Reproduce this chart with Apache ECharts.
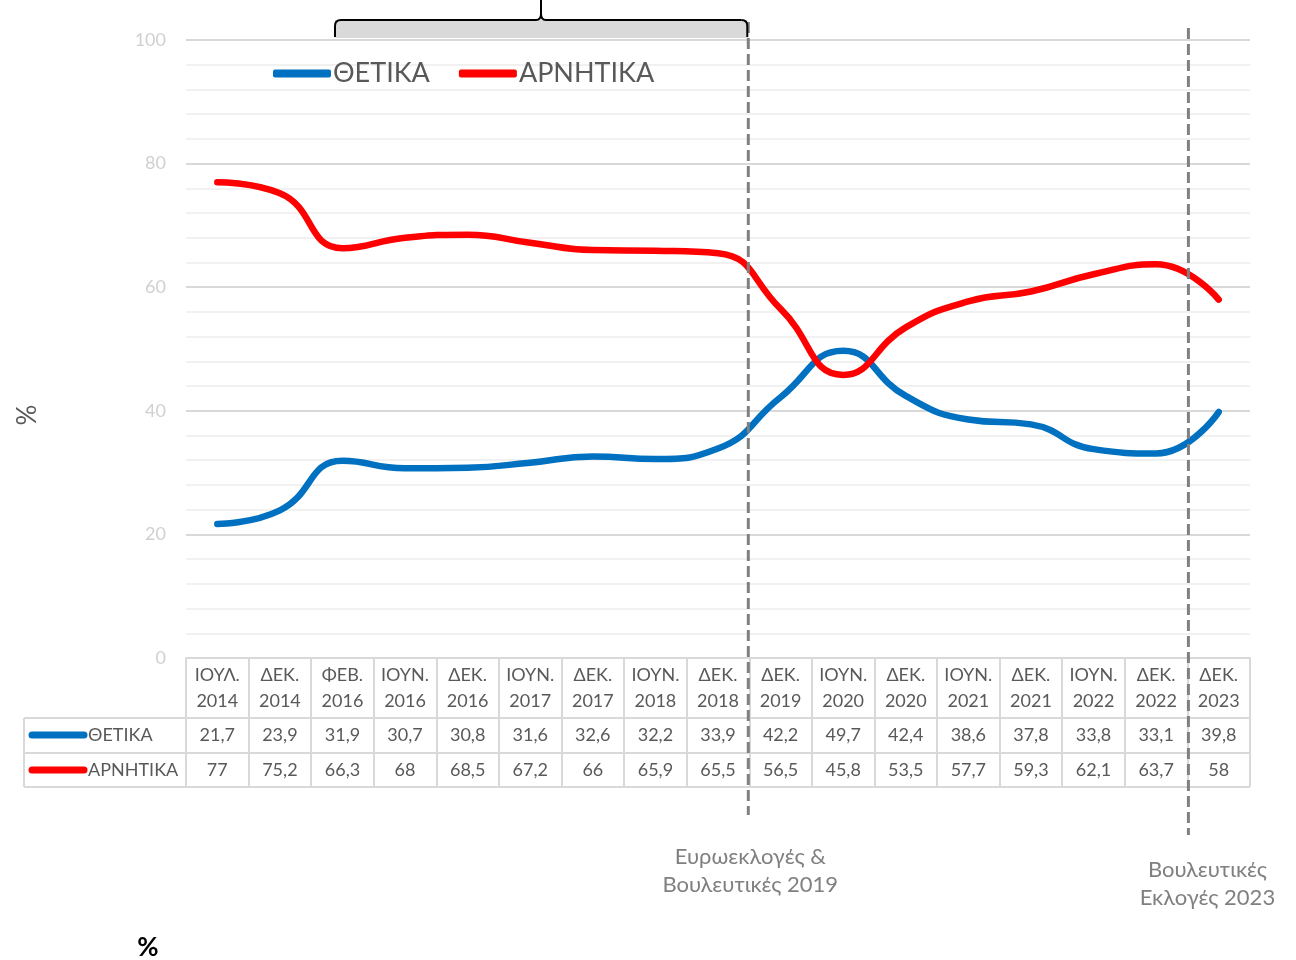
<!DOCTYPE html>
<html>
<head>
<meta charset="utf-8">
<script src="https://cdn.jsdelivr.net/npm/echarts@6/dist/echarts.min.js"></script>
<style>
  html, body { margin: 0; padding: 0; background: #fff; }
  #chart { width: 1296px; height: 960px; }
</style>
</head>
<body>
<div id="chart"></div>
<script>
// περίοδοι μέτρησης
var categories = ['ΙΟΥΛ. 2014', 'ΔΕΚ. 2014', 'ΦΕΒ. 2016', 'ΙΟΥΝ. 2016', 'ΔΕΚ. 2016', 'ΙΟΥΝ. 2017',
  'ΔΕΚ. 2017', 'ΙΟΥΝ. 2018', 'ΔΕΚ. 2018', 'ΔΕΚ. 2019', 'ΙΟΥΝ. 2020', 'ΔΕΚ. 2020', 'ΙΟΥΝ. 2021',
  'ΔΕΚ. 2021', 'ΙΟΥΝ. 2022', 'ΔΕΚ. 2022', 'ΔΕΚ. 2023'];
var thetika = [21.7, 23.9, 31.9, 30.7, 30.8, 31.6, 32.6, 32.2, 33.9, 42.2, 49.7, 42.4, 38.6, 37.8, 33.8, 33.1, 39.8];
var arnhtika = [77, 75.2, 66.3, 68, 68.5, 67.2, 66, 65.9, 65.5, 56.5, 45.8, 53.5, 57.7, 59.3, 62.1, 63.7, 58];
var yTicks = [0, 20, 40, 60, 80, 100];
var seriesNames = ['ΘΕΤΙΚΑ', 'ΑΡΝΗΤΙΚΑ'];
var colors = ['#0070c0', '#ff0000'];

var font = 'Lato';
var gridColor = '#d9d9d9';
var textColor = '#595959';

var chart = echarts.init(document.getElementById('chart'));

var option = {
  backgroundColor: '#fff',
  animation: false,
  textStyle: { fontFamily: font },
  legend: {
    left: 268,
    top: 55,
    itemWidth: 58,
    itemHeight: 8,
    itemGap: 29,
    icon: 'roundRect',
    textStyle: { fontSize: 27, color: textColor, fontFamily: font, padding: [0, 0, 0, -3] },
    data: seriesNames
  },
  grid: { left: 186, right: 46, top: 40, bottom: 302 },
  xAxis: {
    type: 'category',
    data: categories,
    boundaryGap: true,
    axisLine: { show: true, lineStyle: { color: gridColor, width: 2 } },
    axisTick: { show: true, length: 129, lineStyle: { color: gridColor, width: 2 } },
    axisLabel: {
      margin: 4,
      interval: 0,
      color: textColor,
      fontSize: 18,
      lineHeight: 26,
      fontFamily: font,
      formatter: function (v) { return v.replace(' ', '\n'); }
    }
  },
  yAxis: {
    type: 'value',
    min: 0,
    max: 100,
    interval: 20,
    axisLine: { show: false },
    axisTick: { show: false },
    axisLabel: {
      margin: 20,
      color: '#d0d0d0',
      fontSize: 18,
      fontFamily: font,
      formatter: function (v) { return yTicks.indexOf(v) >= 0 ? String(v) : ''; }
    },
    splitLine: { lineStyle: { color: gridColor, width: 2 } },
    minorTick: { show: false, splitNumber: 5 },
    minorSplitLine: { show: true, lineStyle: { color: '#ededed', width: 1.5 } }
  },
  series: [
    {
      name: seriesNames[0],
      type: 'line',
      data: thetika,
      smooth: 0.5,
      symbol: 'none',
      lineStyle: { color: colors[0], width: 6.5, cap: 'round' },
      itemStyle: { color: colors[0] },
      z: 3
    },
    {
      name: seriesNames[1],
      type: 'line',
      data: arnhtika,
      smooth: 0.5,
      symbol: 'none',
      lineStyle: { color: colors[1], width: 6.5, cap: 'round' },
      itemStyle: { color: colors[1] },
      z: 3
    }
  ]
};

chart.setOption(option);

// πίνακας τιμών, αγκύλη, διακεκομμένες γραμμές
var xs = categories.map(function (c, i) { return chart.convertToPixel({ xAxisIndex: 0 }, i); });
var tableLeft = 24, plotRight = 1250;
var row1 = 718, row2 = 753, row3 = 787;
var g = [];

function fmt(v) { return String(v).replace('.', ','); }
function ln(x1, y1, x2, y2, style, z) {
  return { type: 'line', shape: { x1: x1, y1: y1, x2: x2, y2: y2 }, style: style, z: z };
}

var border = { stroke: gridColor, lineWidth: 2 };
[row1, row2, row3].forEach(function (y) { g.push(ln(tableLeft, y, plotRight, y, border, 1)); });
g.push(ln(tableLeft, row1, tableLeft, row3, border, 1));

var rows = [thetika, arnhtika];
rows.forEach(function (arr, r) {
  var yc = r === 0 ? 735 : 770;
  arr.forEach(function (v, i) {
    g.push({ type: 'text', x: xs[i], y: yc, style: { text: fmt(v), fill: textColor, font: '18px ' + font, align: 'center', verticalAlign: 'middle' }, z: 5 });
  });
  g.push(ln(32, yc, 84, yc, { stroke: colors[r], lineWidth: 7, lineCap: 'round' }, 5));
  g.push({ type: 'text', x: 88, y: yc, style: { text: seriesNames[r], fill: textColor, font: '18px ' + font, align: 'left', verticalAlign: 'middle' }, z: 5 });
});

// διακεκομμένες γραμμές εκλογών
var e1 = (xs[8] + xs[9]) / 2 - 1;
var e2 = (xs[15] + xs[16]) / 2 + 1;
var dash = { stroke: '#808080', lineWidth: 3, lineDash: [11, 5] };
g.push(ln(e1, 22, e1, 815, dash, 10));
g.push(ln(e2, 28, e2, 835, dash, 10));

g.push({ type: 'text', x: e1 + 2, y: 871, style: { text: 'Ευρωεκλογές &\nΒουλευτικές 2019', fill: '#808080', font: '22px ' + font, align: 'center', verticalAlign: 'middle', lineHeight: 28 }, z: 10 });
g.push({ type: 'text', x: e2 + 19, y: 884, style: { text: 'Βουλευτικές\nΕκλογές 2023', fill: '#808080', font: '22px ' + font, align: 'center', verticalAlign: 'middle', lineHeight: 28 }, z: 10 });

// αγκύλη πάνω
var bL = 335, bR = e1 - 1, bM = Math.round((bL + bR) / 2);
var br = { stroke: '#000', lineWidth: 2, fill: null };
g.push({ type: 'rect', shape: { x: bL, y: 20, width: bR - bL, height: 18 }, style: { fill: '#d9d9d9' }, z: 2 });
g.push(ln(bL, 37, bL, 26, br, 11));
g.push({ type: 'bezierCurve', shape: { x1: bL, y1: 26, x2: bL + 6, y2: 20, cpx1: bL, cpy1: 20 }, style: br, z: 11 });
g.push(ln(bL + 6, 20, bM - 5, 20, br, 11));
g.push({ type: 'bezierCurve', shape: { x1: bM - 5, y1: 20, x2: bM, y2: 14, cpx1: bM, cpy1: 20 }, style: br, z: 11 });
g.push(ln(bM, 14, bM, 0, br, 11));
g.push({ type: 'bezierCurve', shape: { x1: bM, y1: 14, x2: bM + 5, y2: 20, cpx1: bM, cpy1: 20 }, style: br, z: 11 });
g.push(ln(bM + 5, 20, bR - 6, 20, br, 11));
g.push({ type: 'bezierCurve', shape: { x1: bR - 6, y1: 20, x2: bR, y2: 26, cpx1: bR, cpy1: 20 }, style: br, z: 11 });
g.push(ln(bR, 26, bR, 37, br, 11));

// ετικέτες %
g.push({ type: 'text', x: 28, y: 415, rotation: Math.PI / 2, style: { text: '%', fill: textColor, font: '26px ' + font, align: 'center', verticalAlign: 'middle' }, z: 10 });
g.push({ type: 'text', x: 148, y: 948, style: { text: '%', fill: '#000', font: 'bold 26px ' + font, align: 'center', verticalAlign: 'middle' }, z: 10 });

chart.setOption({ graphic: g });
</script>
</body>
</html>
